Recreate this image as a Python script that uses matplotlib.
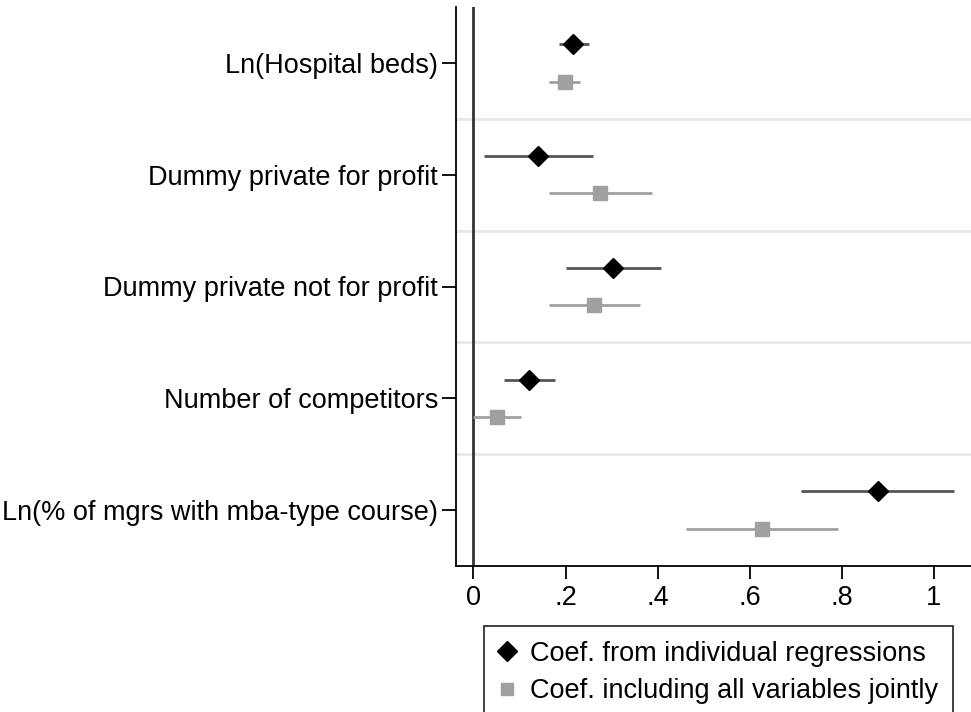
import matplotlib

matplotlib.use("Agg")
import matplotlib.pyplot as plt
import numpy as np
from matplotlib.lines import Line2D

plt.rcParams["font.family"] = ["Liberation Sans", "DejaVu Sans"]

variables = [
    "Ln(Hospital beds)",
    "Dummy private for profit",
    "Dummy private not for profit",
    "Number of competitors",
    "Ln(% of mgrs with mba-type course)",
]
indiv_coef = [0.217, 0.141, 0.304, 0.121, 0.878]
indiv_lo = [0.185, 0.023, 0.200, 0.066, 0.711]
indiv_hi = [0.251, 0.260, 0.408, 0.177, 1.045]
joint_coef = [0.198, 0.275, 0.262, 0.051, 0.626]
joint_lo = [0.164, 0.164, 0.163, -0.001, 0.461]
joint_hi = [0.232, 0.387, 0.361, 0.104, 0.791]
xticks = [0, 0.2, 0.4, 0.6, 0.8, 1.0]
xticklabels = ["0", ".2", ".4", ".6", ".8", "1"]

dark = "#555555"
light = "#a0a0a0"
offset = 0.167
fs = 19.5

fig = plt.figure(figsize=(9.71, 7.12), dpi=100)
ax = fig.add_axes([456 / 971, 1 - 566 / 712, 1 - 456 / 971, (566 - 7) / 712])

ypos = np.arange(len(variables))
ax.hlines(ypos - offset, indiv_lo, indiv_hi, color=dark, linewidth=2, zorder=2)
ax.plot(indiv_coef, ypos - offset, linestyle="none", marker="D", markersize=10,
        color="black", zorder=3)
ax.hlines(ypos + offset, joint_lo, joint_hi, color=light, linewidth=2, zorder=2)
ax.plot(joint_coef, ypos + offset, linestyle="none", marker="s", markersize=10,
        color=light, zorder=3)

for sep in ypos[:-1] + 0.5:
    ax.axhline(sep, color="#e8e8e8", linewidth=2, zorder=1)
ax.axvline(0, color="#333333", linewidth=2, zorder=1)

ax.set_xlim(-0.038, 1.081)
ax.set_ylim(len(variables) - 0.5, -0.5)
ax.set_yticks(ypos)
ax.set_yticklabels(variables, fontsize=fs)
ax.set_xticks(xticks)
ax.set_xticklabels(xticklabels, fontsize=fs)
ax.tick_params(axis="y", length=10, width=1.3, pad=3)
ax.tick_params(axis="x", length=9, width=1.3, pad=5)
for side in ["top", "right"]:
    ax.spines[side].set_visible(False)
for side in ["left", "bottom"]:
    ax.spines[side].set_linewidth(1.3)

handles = [
    Line2D([], [], linestyle="none", marker="D", markersize=10, color="black"),
    Line2D([], [], linestyle="none", marker="s", markersize=9, color=light),
]
leg = fig.legend(handles, ["Coef. from individual regressions",
                           "Coef. including all variables jointly"],
                 loc="upper left", bbox_to_anchor=(484 / 971, 1 - 626 / 712),
                 fontsize=fs, frameon=True, fancybox=False, edgecolor="black",
                 handlelength=0.6, handletextpad=0.55, borderpad=0.55,
                 labelspacing=0.42, borderaxespad=0)
leg.get_frame().set_linewidth(1.3)

fig.savefig("out.png", dpi=100)
